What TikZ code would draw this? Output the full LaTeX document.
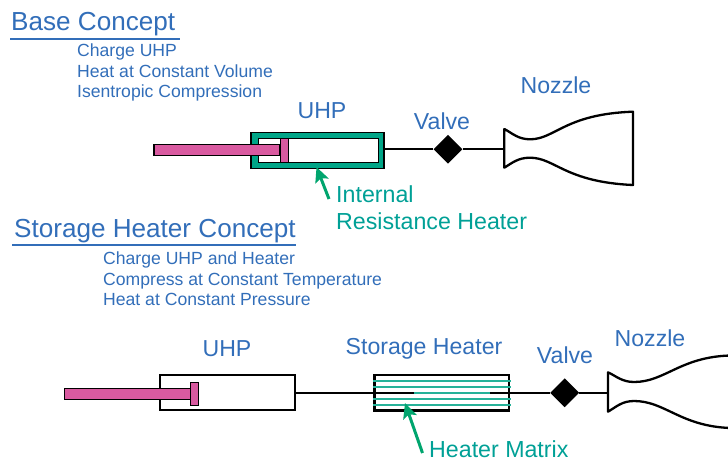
\documentclass[tikz,border=0pt]{standalone}
\usepackage{fontspec}
\setmainfont{Liberation Sans}
\usepackage{xcolor}
\usetikzlibrary{arrows.meta,shapes.geometric}
\definecolor{labelblue}{RGB}{50,110,185}
\definecolor{heaterteal}{RGB}{0,165,135}
\definecolor{noteteal}{RGB}{0,160,150}
\definecolor{arrowgreen}{RGB}{0,165,110}
\definecolor{rodpink}{RGB}{217,90,160}
\begin{document}
\begin{tikzpicture}[x=1pt,y=-1pt,
                    title node/.style={anchor=base west,inner sep=0,text=labelblue,font=\fontsize{26.1}{28}\selectfont},
                    step node/.style={anchor=base west,inner sep=0,text=labelblue,font=\fontsize{17.6}{20}\selectfont},
                    part node/.style={anchor=base,inner sep=0,text=labelblue,font=\fontsize{23.1}{26}\selectfont},
                    note node/.style={anchor=base west,inner sep=0,text=noteteal,font=\fontsize{23.2}{26}\selectfont},
                    box node/.style={rectangle,draw=black,line width=2pt,inner sep=0},
                    rod node/.style={rectangle,draw=black,line width=1.1pt,fill=rodpink,inner sep=0},
                    valve node/.style={diamond,fill=black,inner sep=0,minimum width=29pt,minimum height=29pt},
                    pipe/.style={line width=2pt},
                    nozzle/.style={line width=2.3pt,line join=round},
                    rule/.style={labelblue,line width=1.2pt},
                    matrix line/.style={heaterteal!85,line width=1.8pt},
                    pointer/.style={arrowgreen,line width=3pt,-{Stealth[length=15pt,width=14pt,inset=3pt]}}]
 \useasboundingbox (0,0) rectangle (728,461);

 % base concept
 \node[title node] (title1) at (11,30) {Base Concept};
 \draw[rule] (10,39) -- (180,39);
 \node[step node] (step11) at (77,56) {Charge UHP};
 \node[step node] (step12) at (77,77) {Heat at Constant Volume};
 \node[step node] (step13) at (77,97) {Isentropic Compression};

 \node[part node] (uhplabel1) at (322,118) {UHP};
 \node[part node] (valvelabel1) at (442,129) {Valve};
 \node[part node] (nozzlelabel1) at (556,93) {Nozzle};

 \node[box node,fill=heaterteal,line width=1.2pt,minimum width=133pt,minimum height=36.5pt] (uhp1) at (317.5,150.5) {};
 \node[box node,fill=white,line width=1.2pt,minimum width=120.5pt,minimum height=23.5pt] (bore1) at (318.5,150.5) {};
 \node[rod node,minimum width=126pt,minimum height=11pt] (rod1) at (217,150.3) {};
 \node[rod node,minimum width=8pt,minimum height=23.5pt] (piston1) at (284.3,150.5) {};
 \node[valve node] (valve1) at (448,149.3) {};
 \coordinate (inlet1) at (504.3,149.3);
 \draw[pipe] (uhp1.east |- valve1) -- (valve1);
 \draw[pipe] (valve1) -- (inlet1);

 \draw[nozzle] (633,111.7) .. controls (565,114) and (555,139.3) .. (530,139.3)
   .. controls (518,139.3) and (512,133) .. (504.3,129) -- (504.3,167.7)
   .. controls (512,163) and (518,157.7) .. (530,157.7)
   .. controls (555,157.7) and (565,182) .. (633,185) -- cycle;

 \coordinate (tail1) at (329,199);
 \coordinate (tip1) at (316.5,167);
 \draw[pointer] (tail1) -- (tip1);
 \node[note node] (note11) at (336,202) {Internal};
 \node[note node] (note12) at (336,229) {Resistance Heater};

 % storage heater concept
 \node[title node] (title2) at (14,237) {Storage Heater Concept};
 \draw[rule] (12,245) -- (296,245);
 \node[step node] (step21) at (103,264) {Charge UHP and Heater};
 \node[step node] (step22) at (103,285) {Compress at Constant Temperature};
 \node[step node] (step23) at (103,305) {Heat at Constant Pressure};

 \node[part node] (uhplabel2) at (227,356) {UHP};
 \node[part node] (heaterlabel) at (424,354) {Storage Heater};
 \node[part node] (valvelabel2) at (565,363) {Valve};
 \node[part node] (nozzlelabel2) at (650,346) {Nozzle};

 \node[box node,fill=white,minimum width=135pt,minimum height=35pt] (uhp2) at (227.5,392.8) {};
 \node[rod node,minimum width=125.5pt,minimum height=11pt] (rod2) at (127.3,394.2) {};
 \node[rod node,minimum width=8pt,minimum height=23.5pt] (piston2) at (194.3,393.8) {};
 \node[box node,fill=white,line width=2.4pt,minimum width=134.5pt,minimum height=35.5pt] (heater) at (441.7,392.8) {};
 \foreach \y in {381.3,387.3,393,398.7,405}
  \draw[matrix line] (373,\y) -- (511,\y);
 \node[valve node] (valve2) at (564.7,392.8) {};
 \coordinate (stub1) at (414,392.8);
 \coordinate (stub2) at (490,392.8);
 \coordinate (inlet2) at (608,392.8);
 \draw[pipe] (uhp2.east) -- (stub1);
 \draw[pipe] (stub2) -- (valve2);
 \draw[pipe] (valve2) -- (inlet2);

 \draw[nozzle] (730,355.5) .. controls (680,357) and (665,382) .. (634,382)
   .. controls (622,382) and (616,376) .. (608,372.3) -- (608,411.7)
   .. controls (616,407) and (622,401) .. (634,401)
   .. controls (665,401) and (680,426) .. (730,428);

 \coordinate (tail2) at (422.5,453);
 \coordinate (tip2) at (405,403);
 \draw[pointer] (tail2) -- (tip2);
 \node[note node] (note2) at (429,457) {Heater Matrix};
\end{tikzpicture}
\end{document}
